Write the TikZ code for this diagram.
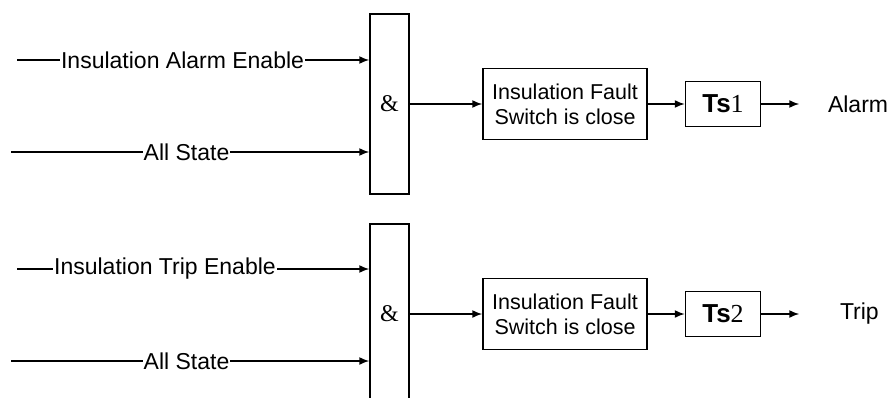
\documentclass[tikz,border=0pt]{standalone}
\usepackage{fontspec}
\setmainfont{Liberation Sans}
\newfontfamily\timesfont{Liberation Serif}
\usetikzlibrary{positioning, arrows.meta}

\begin{document}
\begin{tikzpicture}[
  x=1pt, y=-1pt,
  every node/.style={font=\fontsize{23}{27}\selectfont},
  line width=1.5pt,
  >={Latex[length=10pt,width=8pt]},
  gate/.style={draw, minimum width=39pt, minimum height=180pt, font=\timesfont\fontsize{24}{28}\selectfont},
  fault/.style={draw, minimum width=164pt, minimum height=71pt, align=center, inner sep=2pt, font=\fontsize{21.5}{25}\selectfont},
  timer/.style={draw, minimum width=75pt, minimum height=45pt, inner sep=1pt, font=\fontsize{26}{30}\selectfont},
  sig/.style={fill=white, inner sep=1pt},
  outcome/.style={inner sep=0pt, anchor=west},
]
\useasboundingbox (0,0) rectangle (890,398);

% alarm path
\node[gate] (gate1) at (389.5,104) {\&};
\coordinate (en1) at (17,60);
\coordinate (st1) at (11,152);
\draw[->] (en1) -- node[sig, pos=0.47] {Insulation Alarm Enable} (en1 -| gate1.west);
\draw[->] (st1) -- node[sig, pos=0.49] {All State} (st1 -| gate1.west);
\node[fault] (fault1) at (565,104) {Insulation Fault\\Switch is close};
\node[timer, right=37pt of fault1] (ts1) {\textbf{Ts}{\timesfont 1}};
\coordinate[right=38pt of ts1] (out1);
\node[outcome, right=28pt of out1] (alarm) {Alarm};
\draw[->] (gate1.east) -- (fault1.west);
\draw[->] (fault1) -- (ts1);
\draw[->] (ts1) -- (out1);

% trip path
\node[gate] (gate2) at (389.5,314) {\&};
\coordinate (en2) at (17,269);
\coordinate (st2) at (11,361);
\draw[->] (en2) -- node[sig, pos=0.42] {Insulation Trip Enable} (en2 -| gate2.west);
\draw[->] (st2) -- node[sig, pos=0.49] {All State} (st2 -| gate2.west);
\node[fault] (fault2) at (565,314) {Insulation Fault\\Switch is close};
\node[timer, right=37pt of fault2] (ts2) {\textbf{Ts}{\timesfont 2}};
\coordinate[right=38pt of ts2] (out2);
\node[outcome, right=40pt of out2] (trip) {Trip};
\draw[->] (gate2.east) -- (fault2.west);
\draw[->] (fault2) -- (ts2);
\draw[->] (ts2) -- (out2);
\end{tikzpicture}
\end{document}
